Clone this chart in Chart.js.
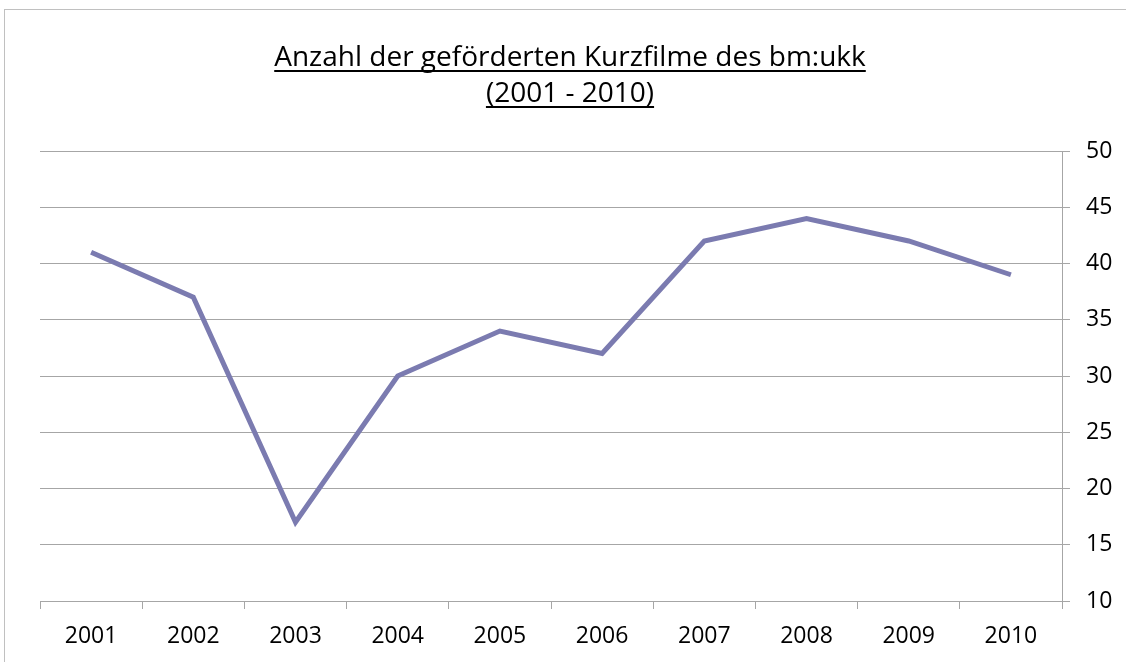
<!DOCTYPE html>
<html>
<head>
<meta charset="utf-8">
<script src="https://cdn.jsdelivr.net/npm/chart.js"></script>
<style>
  html, body { margin: 0; padding: 0; background: #fff; }
  #wrap { width: 1126px; height: 662px; }
</style>
</head>
<body>
<div id="wrap"><canvas id="lineChart"></canvas></div>
<script>
// data
const years = ['2001', '2002', '2003', '2004', '2005', '2006', '2007', '2008', '2009', '2010'];
const kurzfilme = [41, 37, 17, 30, 34, 32, 42, 44, 42, 39];
const titleLines = ['Anzahl der geförderten Kurzfilme des bm:ukk', '(2001 - 2010)'];
const yMin = 10, yMax = 50, yStep = 5;

const FONT = '"Open Sans", "DejaVu Sans", sans-serif';

// frame round the chart + underlined title (Chart.js title can't underline)
const frameAndTitle = {
  id: 'frameAndTitle',
  beforeDraw(chart) {
    const c = chart.ctx;
    c.save();
    c.fillStyle = '#fff';
    c.fillRect(0, 0, chart.width, chart.height);
    c.strokeStyle = '#c0c0c0';
    c.lineWidth = 1;
    c.strokeRect(4.5, 9.5, chart.width + 20, chart.height + 20);
    c.restore();
  },
  afterDraw(chart) {
    const c = chart.ctx;
    c.save();
    c.font = '28px ' + FONT;
    c.fillStyle = '#000';
    c.textAlign = 'center';
    c.textBaseline = 'alphabetic';
    const cx = 570;
    titleLines.forEach((t, i) => {
      const y = 66 + i * 36;
      c.fillText(t, cx, y);
      const w = c.measureText(t).width;
      c.fillRect(cx - w / 2, y + 4, w, 2);
    });
    c.restore();
  }
};

new Chart(document.getElementById('lineChart'), {
  type: 'line',
  data: {
    labels: years,
    datasets: [{
      label: 'Kurzfilme',
      data: kurzfilme,
      borderColor: '#7b7bb0',
      backgroundColor: '#7b7bb0',
      borderWidth: 5,
      pointRadius: 0,
      tension: 0
    }]
  },
  options: {
    responsive: true,
    maintainAspectRatio: false,
    animation: false,
    layout: { padding: { left: 40, top: 151, right: 0, bottom: 0 } },
    plugins: {
      legend: { display: false },
      title: { display: false },
      tooltip: { enabled: false }
    },
    scales: {
      x: {
        offset: true,
        grid: {
          offset: true,
          drawOnChartArea: false,
          drawTicks: true,
          tickLength: 8,
          color: '#a6a6a6'
        },
        border: { display: true, color: '#a6a6a6' },
        ticks: {
          color: '#000',
          font: { family: FONT, size: 23 },
          padding: 14,
          maxRotation: 0
        },
        afterFit(scale) { scale.height = 61; }
      },
      y: {
        position: 'right',
        min: yMin,
        max: yMax,
        grid: {
          color: '#a6a6a6',
          tickLength: 8
        },
        border: { display: true, color: '#a6a6a6' },
        ticks: {
          stepSize: yStep,
          color: '#000',
          font: { family: FONT, size: 23 },
          padding: 16
        },
        afterFit(scale) { scale.width = 64; }
      }
    }
  },
  plugins: [frameAndTitle]
});
</script>
</body>
</html>
